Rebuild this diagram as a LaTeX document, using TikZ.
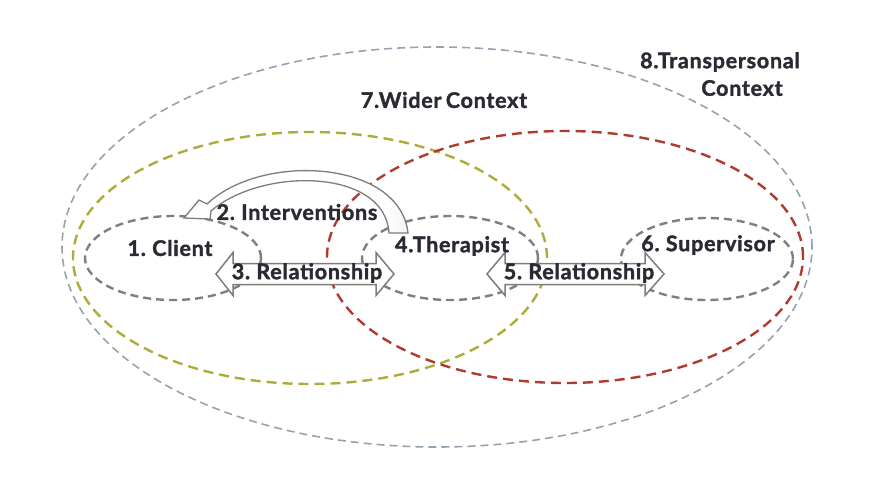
\documentclass[tikz,border=0pt]{standalone}
\usepackage{fontspec}
\setmainfont{Lato}[BoldFeatures={FakeBold=1.6,LetterSpace=3.5}]
\usetikzlibrary{shapes.geometric,patterns}
\definecolor{outerblue}{HTML}{94A3AF}
\definecolor{olive}{HTML}{ADAC3A}
\definecolor{darkred}{HTML}{B03A2E}
\definecolor{ringgray}{HTML}{7F7F7F}
\definecolor{arrowgray}{HTML}{7A7E7A}
\definecolor{txt}{HTML}{2A2A33}
\newcommand\tightwords{\spaceskip=0.2em\relax}
\pgfdeclarehorizontalshading{tailshade}{100bp}{color(0bp)=(white); color(70bp)=(white); color(100bp)=(black!28)}
\begin{document}
\begin{tikzpicture}[x=1pt,y=-1pt,
  ring/.style={ellipse, inner sep=0pt, dash pattern=on 8pt off 5pt},
  bigring/.style={ellipse, inner sep=0pt, dash pattern=on 10pt off 6pt},
  blockarrow/.style={draw=arrowgray, line width=1.5pt, fill=white, line join=miter},
  lbl/.style={font=\bfseries\fontsize{21.5}{25}\selectfont, text=txt, inner sep=0pt,
    execute at begin node=\tightwords}]
\useasboundingbox (0,0) rectangle (871,477);
% context ellipses
\node[ring, draw=outerblue, line width=1.6pt, minimum width=750pt, minimum height=400pt] (trans) at (437,247) {};
\node[bigring, draw=olive, line width=2.4pt, minimum width=474pt, minimum height=252pt] (wider) at (310,258) {};
\node[bigring, draw=darkred, line width=2.4pt, minimum width=476pt, minimum height=252pt] (super) at (565,257) {};
% person ellipses
\node[ring, draw=ringgray, line width=2.4pt, minimum width=176pt, minimum height=84pt] (client) at (173,258) {};
\node[ring, draw=ringgray, line width=2.4pt, minimum width=176pt, minimum height=84pt] (therapist) at (450,258) {};
\node[ring, draw=ringgray, line width=2.4pt, minimum width=172pt, minimum height=82pt] (supervisor) at (707,259) {};
% 3. Relationship double arrow
\path[blockarrow] (216,274) -- (233,252.5) -- (233,263.5) -- (376,263.5) -- (376,252.5) -- (394,274)
  -- (376,295.5) -- (376,284.5) -- (233,284.5) -- (233,295.5) -- cycle;
\fill[pattern=dots, pattern color=black!9] (234,265) rectangle (375,283);
% 5. Relationship double arrow
\path[blockarrow] (487,274) -- (505,252.5) -- (505,263.5) -- (645,263.5) -- (645,252.5) -- (664,274)
  -- (645,295.5) -- (645,284.5) -- (505,284.5) -- (505,295.5) -- cycle;
\fill[pattern=dots, pattern color=black!9] (506,265) rectangle (644,283);
% 2. Interventions curved arrow
\shadedraw[shading=tailshade, draw=arrowgray, line width=1.3pt, line join=miter]
  (408,233) .. controls (400,160) and (262,152) .. (207,204) -- (199,200) -- (184,218)
  -- (210,219) -- (211,211) .. controls (262,167) and (385,168) .. (389,233) -- cycle;
% labels
\node[lbl] (t1) at (170,248) {1. Client};
\node[lbl] (t2) at (297,212) {2. Interventions};
\node[lbl] (t3) at (307,273) {3. Relationship};
\node[lbl] (t4) at (452,246) {4.Therapist};
\node[lbl] (t5) at (579,273) {5. Relationship};
\node[lbl] (t6) at (708,245) {6. Supervisor};
\node[lbl] (t7) at (444,100) {7.Wider Context};
\node[lbl] (t8a) at (720,62) {8.Transpersonal};
\node[lbl] (t8b) at (742,88) {Context};
\end{tikzpicture}
\end{document}
